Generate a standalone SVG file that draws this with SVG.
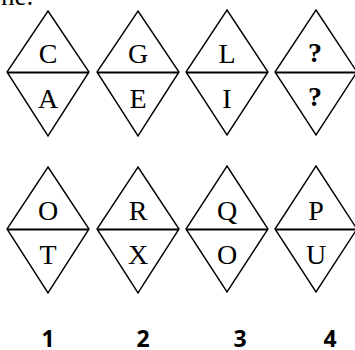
<svg xmlns="http://www.w3.org/2000/svg" width="355" height="350" viewBox="0 0 355 350">
<style>
.d{fill:none;stroke:#000;stroke-width:1.4;stroke-linejoin:miter}
.m{stroke:#000;stroke-width:2}
.t{font-family:"Liberation Serif","Times New Roman",serif;font-size:28px;text-anchor:middle;fill:#000}
.q{font-weight:bold}
.n{font-family:"Open Sans","Liberation Sans",sans-serif;font-size:23px;font-weight:bold;text-anchor:middle;fill:#000}
</style>
<rect width="355" height="350" fill="#fff"/>
<text x="1" y="5" font-family="Liberation Serif, serif" font-size="27" fill="#000">ne.</text>
<g id="d1"><path class="d" d="M48 11 L89 72 L48 136 L7 72 Z"/><line class="m" x1="7" y1="72.5" x2="89" y2="72.5"/><text class="t" x="48" y="63">C</text><text class="t" x="48" y="108">A</text></g>
<g id="d2"><path class="d" d="M138 11 L179 72 L138 136 L97 72 Z"/><line class="m" x1="97" y1="72.5" x2="179" y2="72.5"/><text class="t" x="138" y="63">G</text><text class="t" x="138" y="108">E</text></g>
<g id="d3"><path class="d" d="M227 10 L268 72 L227 135 L186 72 Z"/><line class="m" x1="186" y1="72.5" x2="268" y2="72.5"/><text class="t" x="227" y="63">L</text><text class="t" x="227" y="108">I</text></g>
<g id="d4"><path class="d" d="M316 10 L357 72 L316 135 L275 72 Z"/><line class="m" x1="275" y1="72.5" x2="357" y2="72.5"/><text class="t q" x="315" y="62">?</text><text class="t q" x="315" y="106">?</text></g>
<g id="o1"><path class="d" d="M48 167 L89 229 L48 293 L7 229 Z"/><line class="m" x1="7" y1="229.5" x2="89" y2="229.5"/><text class="t" x="48" y="220">O</text><text class="t" x="48" y="264">T</text></g>
<g id="o2"><path class="d" d="M138 167 L179 229 L138 293 L97 229 Z"/><line class="m" x1="97" y1="229.5" x2="179" y2="229.5"/><text class="t" x="138" y="220">R</text><text class="t" x="138" y="264">X</text></g>
<g id="o3"><path class="d" d="M227 166 L268 229 L227 292 L186 229 Z"/><line class="m" x1="186" y1="229.5" x2="268" y2="229.5"/><text class="t" x="227" y="220">Q</text><text class="t" x="227" y="264">O</text></g>
<g id="o4"><path class="d" d="M316 166 L357 229 L316 292 L275 229 Z"/><line class="m" x1="275" y1="229.5" x2="357" y2="229.5"/><text class="t" x="316" y="220">P</text><text class="t" x="316" y="264">U</text></g>
<g id="labels"><text class="n" x="48" y="347">1</text><text class="n" x="143" y="347">2</text><text class="n" x="240" y="347">3</text><text class="n" x="330" y="347">4</text></g>
</svg>
